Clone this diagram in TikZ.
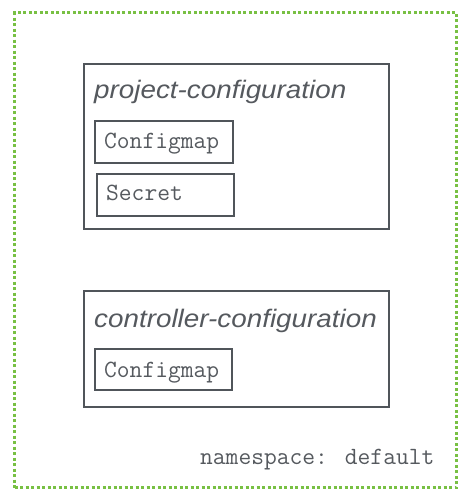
\documentclass[tikz,border=0pt]{standalone}
\usepackage{fontspec}
\newfontfamily\lblfont[FakeStretch=1.1]{Liberation Sans}
\definecolor{boxgray}{HTML}{50555A}
\definecolor{txtgray}{HTML}{55595E}
\definecolor{nsgreen}{HTML}{78C043}
\begin{document}
\begin{tikzpicture}[x=1pt,y=-1pt,
  frame/.style={draw=boxgray,line width=2pt,inner sep=0pt,anchor=north west},
  title/.style={anchor=base west,inner sep=0pt,text=txtgray,font=\lblfont\itshape\fontsize{25.3}{30}\selectfont},
  code/.style={anchor=base west,inner sep=0pt,text=txtgray,font=\ttfamily\fontsize{24.8}{28}\selectfont}]
\useasboundingbox (0,0) rectangle (466,498);
\node[draw=nsgreen,line width=3pt,dash pattern=on 3pt off 2.5pt,inner sep=0pt,anchor=north west,minimum width=442pt,minimum height=475pt] (ns) at (13,11) {};
\node[code] (nslabel) at (200,464) {namespace: default};
% project-configuration
\node[frame,minimum width=305pt,minimum height=165pt] (proj) at (83,63) {};
\node[title] (projt) at (94,98) {project-configuration};
\node[frame,minimum width=138pt,minimum height=42pt] (cm1) at (94,120) {};
\node[code] (cm1t) at (104,148) {Configmap};
\node[frame,minimum width=137pt,minimum height=42pt] (sec) at (96,173) {};
\node[code] (sect) at (106,200.5) {Secret};
% controller-configuration
\node[frame,minimum width=305pt,minimum height=116pt] (ctrl) at (83,290) {};
\node[title] (ctrlt) at (94,327) {controller-configuration};
\node[frame,minimum width=137pt,minimum height=41pt] (cm2) at (94,348) {};
\node[code] (cm2t) at (104,377) {Configmap};
\end{tikzpicture}
\end{document}
